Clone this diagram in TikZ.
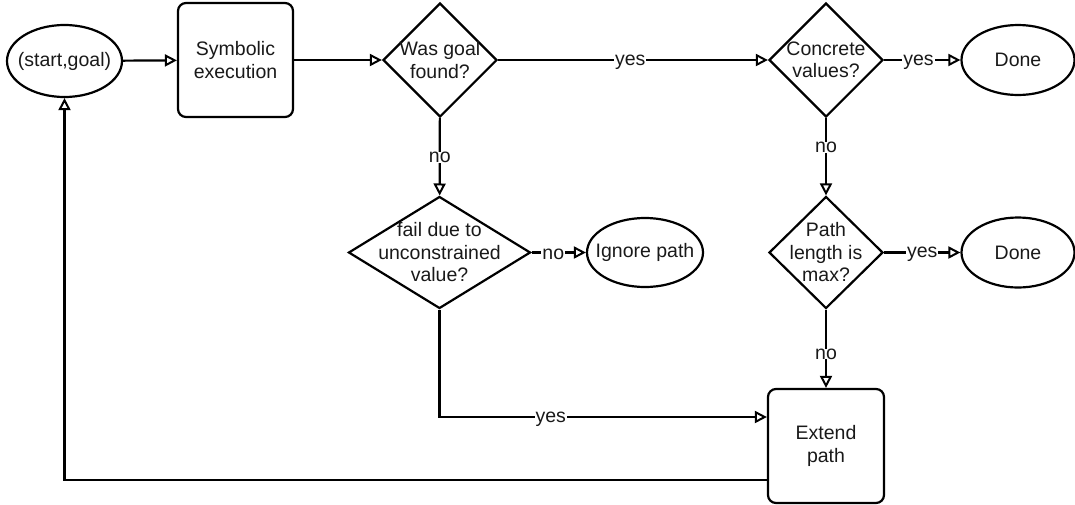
\documentclass[tikz,border=0pt]{standalone}
\usepackage{fontspec}
\setmainfont{Liberation Sans}
\usetikzlibrary{shapes.geometric,arrows.meta}
\newcommand{\flowfont}{\fontsize{19.5}{22.5}\selectfont}
\begin{document}
\begin{tikzpicture}[x=1pt,y=-1pt,
  line width=2.2pt,
  base/.style={draw=black, line width=2.2pt, inner sep=0pt, font=\flowfont,
    label={[font=\flowfont, align=center, text=black!90]center:{#1}}},
  oval/.style={base={#1}, ellipse},
  box/.style={base={#1}, rectangle, rounded corners=8pt},
  choice/.style={base={#1}, diamond},
  arr/.style={line width=2.2pt, -{Triangle[open,length=12pt,width=12pt,line width=2pt]}},
  elab/.style={fill=white, inner xsep=1pt, inner ysep=0pt, font=\flowfont, text=black!90, yshift=-2pt}]
\useasboundingbox (0,0) rectangle (1075,504);

% shapes
\node[oval={(start,goal)}, minimum width=115pt, minimum height=72pt] (sg) at (64.5,61) {};
\node[box={Symbolic\\execution}, minimum width=115pt, minimum height=114pt] (sym) at (235.5,60) {};
\node[choice={Was goal\\found?}, minimum width=114pt, minimum height=114pt] (goal) at (440,60) {};
\node[choice={Concrete\\values?}, minimum width=114pt, minimum height=114pt] (conc) at (826,60) {};
\node[oval={Done}, minimum width=113pt, minimum height=70pt] (done1) at (1018,60) {};
\node[choice={fail due to\\unconstrained\\value?}, minimum width=182pt, minimum height=112pt] (fail) at (439.5,252.5) {};
\node[oval={Ignore path}, minimum width=116pt, minimum height=69pt] (ign) at (645,252.5) {};
\node[choice={Path\\length is\\max?}, minimum width=114pt, minimum height=112pt] (plen) at (826,252.5) {};
\node[oval={Done}, minimum width=113pt, minimum height=70pt] (done2) at (1018,252.5) {};
\node[box={Extend\\path}, minimum width=116pt, minimum height=114pt] (ext) at (826,446) {};

% connectors
\draw[arr] (sg) -- (sym);
\draw[arr] (sym) -- (goal);
\draw[arr] (goal) -- node[elab, pos=0.49] (l1) {yes} (conc);
\draw[arr] (conc) -- node[elab, pos=0.45] (l2) {yes} (done1);
\draw[arr] (goal) -- node[elab, pos=0.48] (l3) {no} (fail);
\draw[arr] (conc) -- node[elab, pos=0.35] (l4) {no} (plen);
\draw[arr] (fail) -- node[elab, pos=0.4] (l5) {no} (ign);
\draw[arr] (plen) -- node[elab, pos=0.5] (l6) {yes} (done2);
\draw[arr] (plen) -- node[elab, pos=0.54] (l7) {no} (ext);
\draw[arr] (fail.south) |- node[elab, pos=0.67] (l8) {yes} ([yshift=29pt]ext.west);
\draw[arr] ([yshift=-34pt]ext.west) -| (sg.south);
\end{tikzpicture}
\end{document}
